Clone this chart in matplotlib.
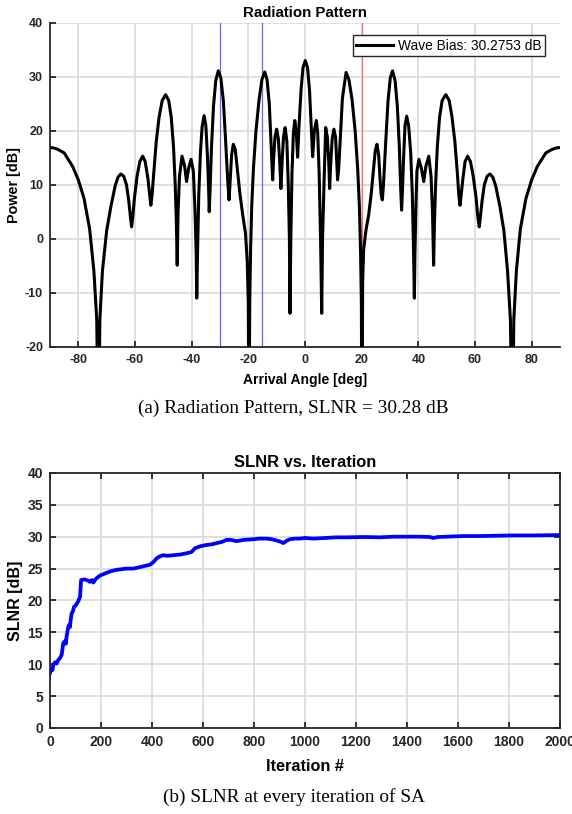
import matplotlib
matplotlib.use("Agg")
import matplotlib.pyplot as plt

# radiation pattern (deg, dB); nulls go below the -20 floor
angle = [-90, -88.5, -87, -85, -82, -80, -78, -76, -74.5, -73.5, -72.9,
         -72.4, -71.5, -70, -68.5, -67, -66, -65, -64, -63, -62.2, -61.6, -61.2,
         -60.8, -60.2, -59.3, -58.3, -57.3, -56.4, -55.4, -54.8, -54.4,
         -54.0, -53.4, -52.5, -51.5, -50.4, -49.2, -48.1, -47.2, -46.4, -45.8, -45.4, -45.1,
         -44.8, -44.3, -43.4, -42.5, -41.8, -41.1, -40.2, -39.4, -38.8, -38.4, -38.2,
         -37.9, -37.5, -36.9, -36.3, -35.6, -35.0, -34.4, -34.0, -33.8,
         -33.5, -33.0, -32.3, -31.5, -30.6, -29.7, -28.8, -28.0, -27.3, -26.8,
         -26.4, -25.9, -25.3, -24.6, -24.0, -23.0, -22.0, -21.0, -20.4, -20.0, -19.8,
         -19.5, -19.2, -18.8, -18.2, -17.3, -16.2, -15.2, -14.2, -13.4, -12.6, -12.0, -11.6, -11.4,
         -11.1, -10.6, -10.0, -9.4, -8.9, -8.5, -8.1, -7.6, -7.0, -6.4, -5.9, -5.5, -5.3,
         -5.0, -4.6, -4.1, -3.6, -3.1, -2.6, -2.1, -1.4, -0.7, 0.1, 0.9, 1.6, 2.2, 2.7,
         3.3, 4.0, 4.5, 5.0, 5.5, 5.9, 6.2, 6.7, 7.3, 7.9, 8.4, 8.7,
         9.1, 9.6, 10.2, 10.8, 11.2, 11.5, 11.9, 12.5, 13.2, 14.5, 15.5, 16.6, 17.7,
         18.6, 19.2, 19.6, 19.9, 20.1,
         20.35, 20.7, 21.5, 22.5, 23.4, 24.3, 24.8, 25.4, 26.0, 26.5, 26.9, 27.3,
         27.7, 28.5, 29.3, 30.1, 30.9, 31.8, 32.6, 33.3, 33.8, 34.1,
         34.4, 34.8, 35.3, 35.9, 36.6, 37.3, 37.9, 38.3, 38.6,
         38.8, 39.1, 39.5, 40.2, 41.1, 41.9, 42.7, 43.7, 44.5, 45.0, 45.4,
         45.7, 46.1, 46.7, 47.5, 48.4, 49.7, 50.9, 51.9, 52.9, 53.8, 54.3, 54.7,
         55.1, 55.7, 56.5, 57.4, 58.4, 59.4, 60.4, 61.0, 61.5,
         61.9, 62.5, 63.3, 64.3, 65.3, 66.3, 67.3, 68.8, 70.2, 71.5, 72.5, 73.2,
         73.7, 74.6, 76.0, 78.0, 80.0, 82.0, 85.0, 87.0, 88.5, 90]
power = [16.9, 16.8, 16.5, 15.9, 13.4, 10.9, 7.5, 1.8, -6, -15, -40,
         -15, -6, 1.5, 6.0, 9.8, 11.4, 12.0, 11.6, 10.0, 7, 4, 2.2,
         4, 7.5, 11.5, 14.3, 15.3, 14.3, 11, 8, 6.2,
         8, 12, 18, 22.5, 25.6, 26.7, 25.6, 22.5, 17, 10, 3, -4.9,
         5, 11.5, 15.3, 13.5, 10.6, 13.0, 14.7, 12.5, 5, -3, -11,
         -2, 8, 16, 20.8, 22.8, 21, 15, 9, 5.0,
         9, 17, 24.5, 29.3, 31.1, 29.8, 25.5, 18, 11, 7.2,
         11, 15.5, 17.5, 16.5, 13.5, 8.5, 4.5, 1.0, -4, -12, -40,
         -12, -2, 6, 13, 20, 25.8, 29.5, 30.9, 29.5, 25, 18, 13, 10.9,
         14.5, 18.8, 20.3, 18.5, 14, 9.3, 14, 18.8, 20.6, 18, 10, 0, -13.8,
         0, 12, 19.5, 21.9, 20, 15.1, 21, 27.5, 31.7, 33.0, 31.7, 27.5, 21, 15.2,
         20, 21.9, 19.5, 12, 0, -13.8, 0, 10, 20.6, 18.8, 14, 9.3,
         14, 18.5, 20.3, 18.8, 14.5, 10.9, 13, 19, 26, 30.8, 29.5, 25.8, 20,
         13, 6, -2, -12, -40,
         -8, -2, 1.5, 4.5, 8.5, 13.5, 16.3, 17.5, 15.5, 11, 8, 7.2,
         10, 18, 25.5, 29.8, 31.1, 29.3, 24.5, 17, 9, 5.3,
         9, 15, 21, 22.7, 20.8, 16, 8, -2, -11,
         -3, 5, 12.5, 14.7, 13.0, 10.6, 13.5, 15.3, 11.5, 5, -4.9,
         3, 10, 17, 22.5, 25.6, 26.7, 25.6, 22.5, 18, 12, 8, 6.2,
         8, 11, 14.3, 15.3, 14.3, 11.5, 7.5, 4, 2.2,
         4, 7, 10, 11.6, 12.0, 11.4, 9.8, 6.0, 1.5, -6, -15, -40,
         -15, -6, 1.8, 7.5, 10.9, 13.4, 15.9, 16.5, 16.8, 16.9]
interferer_angles = [-30, -15]
target_angle = 20
wave_bias = 30.2753
slnr_caption = 30.28

# SLNR per SA iteration
iteration = [0, 5, 10, 13, 20, 26, 33, 40, 46, 52, 58, 62, 65, 68, 72, 76, 78, 81, 85, 90, 94,
             98, 104, 111, 118, 122, 135, 150, 157, 165, 170, 180, 196, 220, 240, 261, 280,
             300, 327, 350, 370, 392, 405, 418, 430, 444, 460, 484, 510, 536, 555, 569, 590,
             614, 635, 654, 675, 693, 710, 732, 760, 797, 820, 850, 870, 889, 905, 915, 930,
             941, 960, 980, 1000, 1033, 1080, 1120, 1164, 1230, 1294, 1350, 1399, 1450, 1490,
             1503, 1520, 1556, 1620, 1686, 1750, 1817, 1900, 2000]
slnr = [8.6, 9.4, 9.1, 9.9, 10.3, 10.1, 10.7, 11.0, 11.5, 13.3, 13.6, 13.2, 14.3, 15.0, 15.9,
        16.2, 15.8, 16.9, 18.0, 18.3, 19.0, 19.1, 19.4, 19.9, 20.6, 23.2, 23.3, 23.1, 22.9,
        23.2, 22.8, 23.4, 23.9, 24.3, 24.6, 24.8, 24.9, 25.0, 25.0, 25.2, 25.4, 25.6, 26.0,
        26.6, 26.9, 27.1, 27.0, 27.1, 27.2, 27.4, 27.6, 28.2, 28.5, 28.7, 28.8, 29.0, 29.2,
        29.5, 29.5, 29.3, 29.5, 29.6, 29.7, 29.7, 29.6, 29.4, 29.2, 29.0, 29.4, 29.6, 29.7,
        29.7, 29.8, 29.7, 29.8, 29.9, 29.9, 29.95, 29.9, 30.0, 30.0, 30.0, 29.95, 29.8,
        29.95, 30.0, 30.1, 30.1, 30.15, 30.2, 30.2, 30.25]

plt.rcParams['font.family'] = ['Liberation Sans', 'DejaVu Sans']
plt.rcParams['axes.unicode_minus'] = False
grid_col = '#dcdcdc'
ink = '#262626'

fig = plt.figure(figsize=(5.72, 8.14), dpi=100)

# (a) radiation pattern
ax1 = fig.add_axes([0.0874, 0.574, 0.8916, 0.398])
for a in interferer_angles:
    ax1.axvline(a, color='#6464ff', lw=0.9, zorder=2)
ax1.axvline(target_angle, color='#ff6e6e', lw=0.9, zorder=2)
ax1.plot(angle, power, color='black', lw=2.2, solid_joinstyle='round',
         label='Wave Bias: %.4f dB' % wave_bias, zorder=3)
ax1.set_xlim(-90, 90)
ax1.set_ylim(-20, 40)
ax1.set_xticks(range(-80, 81, 20))
ax1.set_yticks(range(-20, 41, 10))
ax1.grid(True, color=grid_col, lw=1.3)
ax1.set_axisbelow(True)
for s in ['top', 'right']:
    ax1.spines[s].set_visible(False)
ax1.set_title('Radiation Pattern', fontsize=10.8, fontweight='bold', pad=4)
ax1.set_xlabel('Arrival Angle [deg]', fontsize=10, fontweight='bold', labelpad=5)
ax1.set_ylabel('Power [dB]', fontsize=10.4, fontweight='bold', labelpad=3)
leg = ax1.legend(loc='upper right', bbox_to_anchor=(0.9706, 0.962), borderaxespad=0,
                 fontsize=9.9, frameon=True, fancybox=False, handlelength=2.7,
                 borderpad=0.25, handletextpad=0.35)
leg.get_frame().set_edgecolor(ink)
leg.get_frame().set_linewidth(1.0)
leg.get_frame().set_alpha(1)

# (b) SLNR vs iteration
ax2 = fig.add_axes([0.0874, 0.1057, 0.8916, 0.3133])
ax2.plot(iteration, slnr, color='#0000ff', lw=2.7, solid_joinstyle='round')
ax2.set_xlim(0, 2000)
ax2.set_ylim(0, 40)
ax2.set_xticks(range(0, 2001, 200))
ax2.set_yticks(range(0, 41, 5))
ax2.grid(True, color=grid_col, lw=1.3)
ax2.set_axisbelow(True)
ax2.tick_params(top=True, right=True)
ax2.set_title('SLNR vs. Iteration', fontsize=11.9, fontweight='bold', pad=4)
ax2.set_xlabel('Iteration #', fontsize=11.7, fontweight='bold', labelpad=7)
ax2.set_ylabel('SLNR [dB]', fontsize=11.5, fontweight='bold', labelpad=3)

for ax, ts in ((ax1, 9), (ax2, 10)):
    ax.tick_params(direction='in', length=4, width=1.3, labelsize=ts, colors=ink, pad=5)
    for lab in ax.get_xticklabels() + ax.get_yticklabels():
        lab.set_fontweight('bold')
    for s in ax.spines.values():
        s.set_linewidth(1.3)
        s.set_color(ink)

fig.text(0.512, 0.4926, '(a) Radiation Pattern, SLNR = %.2f dB' % slnr_caption,
         ha='center', va='baseline', fontsize=13.9, family='Liberation Serif')
fig.text(0.514, 0.0147, '(b) SLNR at every iteration of SA',
         ha='center', va='baseline', fontsize=13.9, family='Liberation Serif')

fig.savefig('out.png', dpi=100)
